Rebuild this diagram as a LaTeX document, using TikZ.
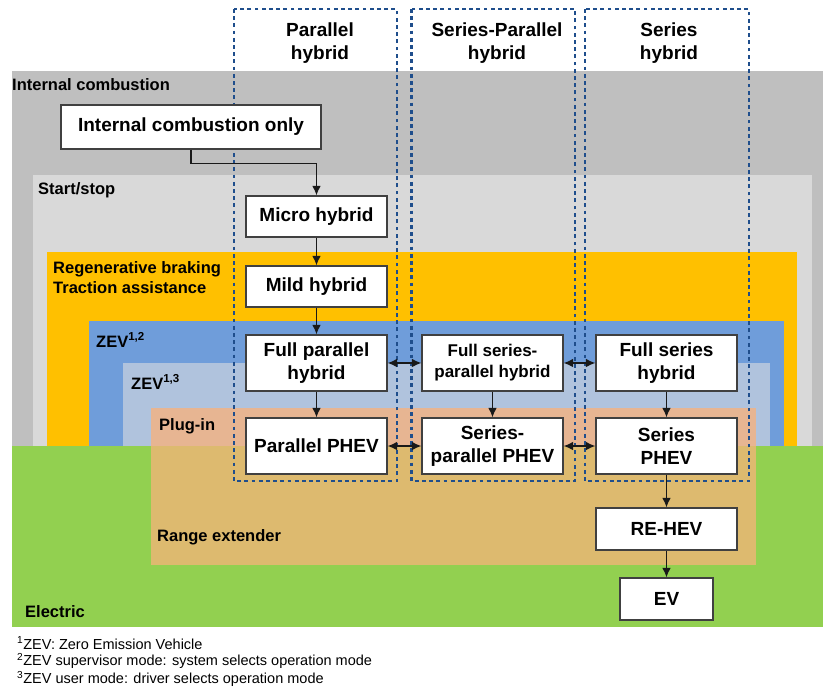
\documentclass[tikz,border=0pt]{standalone}
\usepackage{fontspec}
\setmainfont{Liberation Sans}
\usetikzlibrary{arrows.meta}
\definecolor{icgray}{HTML}{BFBFBF}
\definecolor{ssgray}{HTML}{D9D9D9}
\definecolor{regen}{HTML}{FFC000}
\definecolor{zevA}{HTML}{6F9DDA}
\definecolor{zevB}{HTML}{B0C3DD}
\definecolor{plugin}{HTML}{E7B592}
\definecolor{rangeext}{HTML}{DDBA6F}
\definecolor{electric}{HTML}{92D050}
\definecolor{groupblue}{HTML}{1F4E8C}
\definecolor{boxline}{HTML}{404040}
\begin{document}
\begin{tikzpicture}[x=1pt,y=-1pt,
  lbl/.style={anchor=west, inner sep=0pt, align=left, font=\bfseries\fontsize{16.5}{20}\selectfont},
  hdr/.style={align=center, inner sep=0pt, font=\bfseries\fontsize{19}{23}\selectfont},
  box/.style={draw=boxline, fill=white, line width=1.2pt, align=center, inner sep=0pt,
              minimum width=141pt, font=\bfseries\fontsize{19}{23.5}\selectfont},
  group/.style={draw=groupblue, line width=2.8pt, dash pattern=on 3.8pt off 3.4pt},
  tip/.tip={Latex[length=9.5pt,width=8.5pt]},
  flow/.style={-tip, line width=1.2pt, draw=black!90},
  both/.style={tip-tip, line width=1.2pt, draw=black!90},
  note/.style={anchor=west, inner sep=0pt, font=\fontsize{14.5}{17}\selectfont}
]
\useasboundingbox (0,0) rectangle (823,689);

% nested technology areas
\fill[icgray]   (12,71)   rectangle (823,446);
\fill[ssgray]   (33,175)  rectangle (812,446);
\fill[regen]    (47,252)  rectangle (797,446);
\fill[zevA]     (89,321)  rectangle (784,446);
\fill[zevB]     (123,363) rectangle (770,446);
\fill[electric] (12,446)  rectangle (823,627);
\fill[plugin]   (151,408) rectangle (756,446);
\fill[rangeext] (151,446) rectangle (756,565);

% area labels
\node[lbl] (lic)  at (12,85)  {Internal combustion};
\node[lbl] (lss)  at (38,190) {Start/stop};
\node[lbl] (lrb)  at (53,278) {Regenerative braking\\Traction assistance};
\node[lbl] (lz12) at (96,340) {ZEV\textsuperscript{1,2}};
\node[lbl] (lz13) at (131,382) {ZEV\textsuperscript{1,3}};
\node[lbl] (lpi)  at (159,426) {Plug-in};
\node[lbl] (lre)  at (157,537) {Range extender};
\node[lbl] (lel)  at (25,612) {Electric};

% architecture groups
\draw[group] (234,9)   rectangle (397,481);
\draw[group] (411.5,9) rectangle (575,481);
\draw[group] (585,9)   rectangle (749,481);
\node[hdr] (hpar) at (320,43.5) {Parallel\\hybrid};
\node[hdr] (hsp)  at (497,43.5) {Series-Parallel\\hybrid};
\node[hdr] (hser) at (669,43.5) {Series\\hybrid};

% vehicle types
\node[box, minimum width=260pt, minimum height=44pt] (ico) at (191,127) {Internal combustion only};
\node[box, minimum height=41pt] (micro)  at (316.5,216.5) {Micro hybrid};
\node[box, minimum height=41pt] (mild)   at (316.5,286.5) {Mild hybrid};
\node[box, minimum height=56pt] (fph)    at (316.5,363) {Full parallel\\hybrid};
\node[box, minimum height=56pt] (pphev)  at (316.5,446) {Parallel PHEV};
\node[box, minimum height=56pt, font=\bfseries\fontsize{17}{21}\selectfont] (fsph) at (492.5,363) {Full series-\\parallel hybrid};
\node[box, minimum height=56pt] (spphev) at (492.5,446) {Series-\\parallel PHEV};
\node[box, minimum height=56pt] (fsh)    at (666.5,363) {Full series\\hybrid};
\node[box, minimum height=56pt] (sphev)  at (666.5,446) {Series\\PHEV};
\node[box, minimum height=42pt] (rehev)  at (666.5,529) {RE-HEV};
\node[box, minimum width=93pt, minimum height=42pt] (ev) at (666.5,599) {EV};

% connectors
\draw[flow] (ico.south) -- ++(0,14) -| (micro.north);
\draw[flow] (micro) -- (mild);
\draw[flow] (mild) -- (fph);
\draw[flow] (fph) -- (pphev);
\draw[flow] (fsph) -- (spphev);
\draw[flow] (fsh) -- (sphev);
\draw[flow] (sphev) -- (rehev);
\draw[flow] (rehev) -- (ev);
\draw[both] (fph) -- (fsph);
\draw[both] (fsph) -- (fsh);
\draw[both] (pphev) -- (spphev);
\draw[both] (spphev) -- (sphev);

% footnotes
\node[note] (fn1) at (17,643) {\textsuperscript{1}ZEV: Zero Emission Vehicle};
\node[note] (fn2) at (17,661) {\textsuperscript{2}ZEV supervisor mode: system selects operation mode};
\node[note] (fn3) at (17,679) {\textsuperscript{3}ZEV user mode: driver selects operation mode};
\end{tikzpicture}
\end{document}
